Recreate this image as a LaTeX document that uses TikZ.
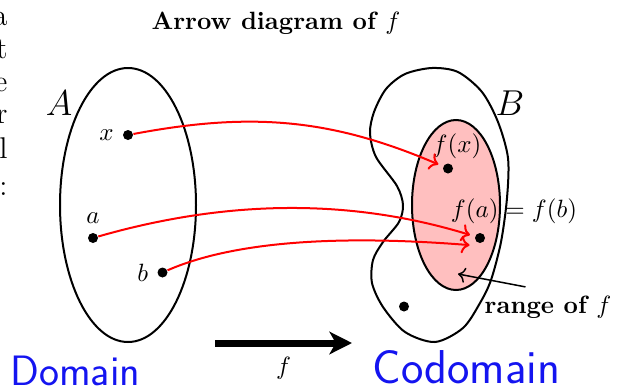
\documentclass[tikz,border=0pt]{standalone}
\usepackage{xcolor}
\usepackage{tikz}
\usetikzlibrary{arrows.meta,positioning}
\definecolor{mapRed}{HTML}{FF0000}
\definecolor{rangeFill}{HTML}{FFBFBF}
\definecolor{inkBlue}{HTML}{1414F0}

\begin{document}
\begin{tikzpicture}[
    x=0.4pt,y=-0.4pt,
    dot/.style={circle,fill=black,inner sep=0pt,minimum size=4pt},
    setline/.style={line width=0.8pt},
    mapar/.style={->,draw=mapRed,line width=0.8pt,shorten >=2pt},
    bigar/.style={-{Stealth[length=9pt,width=9pt,inset=2.5pt]},line width=2.8pt},
    ink/.style={text=inkBlue,anchor=base west,inner sep=0pt,
                font=\sffamily\fontsize{#1}{#1}\selectfont},
    frag/.style={font=\large,anchor=base east,inner sep=0pt}
  ]
    \useasboundingbox (0,0) rectangle (626,387);

    % cut-off text at the left edge
    \node[frag] (t1) at (8,25)  {a};
    \node[frag] (t2) at (8,58)  {t};
    \node[frag] (t3) at (8,91)  {e};
    \node[frag] (t4) at (8,123) {r};
    \node[frag] (t5) at (8,158) {l};
    \node[frag] (t6) at (8,195) {:};

    \node[font=\bfseries] (title) at (276,23) {Arrow diagram of $f$};

    % domain
    \draw[setline] (128,205) ellipse (68 and 137);
    \node (Alab) at (59,103) {\Large $A$};
    \node[dot] (x) at (128,135)     {};
    \node[dot] (a) at (93,238)      {};
    \node[dot] (b) at (162.5,272.5) {};
    \node[left=0pt of x]  (xlab) {$x$};
    \node[above=0pt of a] (alab) {$a$};
    \node[left=0pt of b]  (blab) {$b$};

    % codomain
    \draw[setline] plot[smooth cycle] coordinates {
      (432,68) (458,72) (482,92) (498,122) (508,158) (507,198) (501,242)
      (491,280) (480,303) (463,328) (435,342) (405,332) (383,307) (372,283)
      (373,260) (383,242) (399,222) (403,205) (397,186) (376,157) (370,133)
      (374,112) (386,89) (405,74)};
    \draw[setline,fill=rangeFill] (456,205) ellipse (44 and 85);
    \node (Blab) at (510,103) {\Large $B$};
    \node[dot] (fx) at (448,168.5) {};
    \node[dot] (fa) at (480,238)   {};
    \node[dot] (y)  at (404,306.5) {};
    \node (fxlab) at (457,146) {$f(x)$};
    \node (falab) at (514,211) {$f(a) = f(b)$};

    \node[font=\bfseries] (rangelbl) at (548,307) {range of $f$};
    \coordinate (rtip) at (458,274);
    \draw[->,line width=0.6pt] ([xshift=-9pt]rangelbl.north) -- (rtip);

    % the map
    \draw[mapar] (x) .. controls (250,112) and (330,118) .. (fx);
    \draw[mapar] (a) .. controls (215,203) and (340,195) .. (fa);
    \draw[mapar] (b) .. controls (230,243) and (330,234) .. ([yshift=-3pt]fa.west);

    \coordinate (dstart) at (215,343);
    \coordinate (dend)   at (352,343);
    \draw[bigar] (dstart) -- node[below=1pt] (flab) {$f$} (dend);

    \node[ink=17] (dom)   at (10,385)  {Domain};
    \node[ink=19] (codom) at (372,383) {Codomain};
  \end{tikzpicture}
\end{document}
